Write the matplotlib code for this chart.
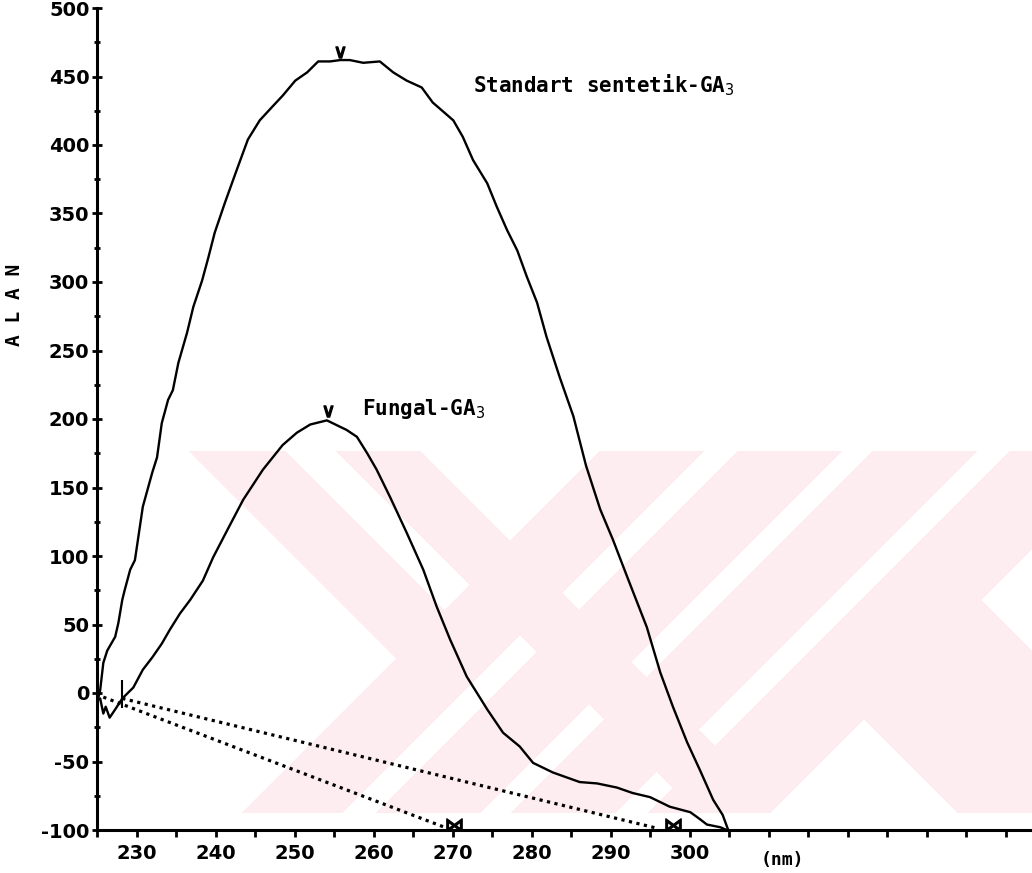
import numpy as np
import matplotlib.pyplot as plt
from matplotlib.ticker import MultipleLocator, FixedLocator

# absorbance scan, standard synthetic GA3 (nm, reading)
std_nm = [225.1, 225.4, 225.8, 226.3, 227.3, 227.7, 228.2, 228.5, 229.2, 229.8,
          230.8, 232.0, 232.6, 233.2, 234.0, 234.6, 235.3, 236.4, 237.2, 238.3,
          239.1, 239.9, 241.2, 242.7, 244.1, 245.6, 247.2, 248.5, 250.1, 251.6,
          253.0, 254.5, 255.8, 257.0, 258.7, 260.8, 262.5, 264.2, 266.1, 267.5,
          270.1, 271.3, 272.6, 274.4, 275.6, 276.9, 278.2, 279.4, 280.7, 281.9,
          283.6, 285.3, 286.9, 288.7, 290.3, 292.1, 294.6, 296.3, 297.9, 299.7,
          301.3, 303.0, 304.2, 304.9]
std_val = [-5, 2, 22, 31, 41, 51, 68, 75, 90, 97,
           136, 161, 172, 197, 214, 221, 241, 263, 282, 301,
           318, 336, 358, 382, 404, 418, 428, 436, 447, 453,
           461, 461, 462, 462, 460, 461, 453, 447, 442, 431,
           418, 406, 389, 372, 355, 338, 323, 304, 285, 260,
           230, 202, 166, 134, 112, 85, 48, 15, -10, -36,
           -56, -78, -89, -100]

# fungal GA3
fun_nm = [225.1, 225.4, 225.8, 226.1, 226.6, 227.3, 228.2, 229.6, 230.8, 232.0,
          233.2, 234.2, 235.5, 236.8, 238.4, 239.7, 241.5, 243.5, 246.0, 248.5,
          250.3, 252.0, 254.1, 256.6, 257.9, 259.2, 260.4, 262.1, 264.2, 266.3,
          268.0, 269.7, 271.8, 274.4, 276.4, 278.5, 280.2, 282.7, 286.1, 288.3,
          290.8, 292.8, 295.0, 297.5, 300.1, 301.3, 302.2, 303.9, 304.7]
fun_val = [-5, -4, -15, -10, -18, -12, -4, 4, 17, 26,
           36, 46, 58, 68, 82, 99, 119, 141, 163, 181,
           190, 196, 199, 192, 187, 175, 163, 143, 117, 90,
           63, 39, 12, -12, -29, -39, -51, -58, -65, -66,
           -69, -73, -76, -83, -87, -92, -96, -98, -100]

# dotted baselines
base1_nm = [225.8, 269.0]
base1_val = [-3, -98]
base2_nm = [228.2, 296.1]
base2_val = [-4, -99]
end_nm = [270.2, 297.9]
end_val = [-96, -96]

peak_nm = [255.8, 254.2]
peak_val = [468, 206]

xtick_vals = [230, 240, 250, 260, 270, 280, 290, 300]
ytick_vals = list(range(-100, 501, 50))

W, H = 1032, 873
fig = plt.figure(figsize=(W / 100, H / 100), dpi=100)

# faint pink watermark in the background
bg = fig.add_axes([0, 0, 1, 1], zorder=0)
px, py = np.meshgrid(np.arange(W) + 0.5, np.arange(H) + 0.5)
d = px - py
s = px + py
white = np.zeros_like(px, dtype=bool)
white |= (d < -262) & (s < 1055)
white |= (d > -166) & (d < -115) & (s < 1055)
white |= (d > -31) & (s < 1051)
for lo, hi in [(1155, 1189), (1293, 1324), (1428, 1461)]:
    white |= (s > lo) & (s < hi) & ~((d >= -115) & (d <= -31))
white |= (s >= 1584) & (d <= 144)
white |= ((s >= 1582) & (d >= 382)) & ~((s >= 1632) & (d >= 432))
inside = (py >= 451) & (py <= 813) & (px >= 185)
pink = inside & ~white
img = np.ones((H, W, 3))
img[pink] = np.array([253, 236, 240]) / 255.0
bg.imshow(img, extent=(0, W, H, 0), aspect="auto", interpolation="nearest")
bg.axis("off")

ax = fig.add_axes([97 / W, 43 / H, (W - 97) / W, 822 / H], zorder=1)
ax.set_facecolor("none")

ax.plot(std_nm, std_val, color="black", lw=1.7)
ax.plot(fun_nm, fun_val, color="black", lw=1.7)
ax.plot(base1_nm, base1_val, color="black", lw=2.3, linestyle=(0, (1, 1.4)))
ax.plot(base2_nm, base2_val, color="black", lw=2.3, linestyle=(0, (1, 1.4)))
ax.plot(end_nm, end_val, linestyle="none", marker=r"$\bowtie$", color="black",
        markersize=11)
ax.plot(peak_nm, peak_val, linestyle="none", marker=r"$\vee$", color="black",
        markersize=8)
ax.plot([228.2], [-1], linestyle="none", marker="|", color="black",
        markersize=20, markeredgewidth=1.5)

ax.set_xlim(225, 225 + (W - 97) / 7.9)
ax.set_ylim(-100, 500)

for side in ["top", "right"]:
    ax.spines[side].set_visible(False)
for side in ["left", "bottom"]:
    ax.spines[side].set_linewidth(2.2)

ax.xaxis.remove_overlapping_locs = False
ax.xaxis.set_major_locator(FixedLocator(xtick_vals))
ax.xaxis.set_minor_locator(MultipleLocator(5))
ax.set_xticklabels([str(v) for v in xtick_vals])
ax.tick_params(axis="x", which="major", length=0, pad=10)
ax.tick_params(axis="x", which="minor", direction="out", length=5, width=2)

ax.yaxis.set_major_locator(FixedLocator(ytick_vals))
ax.yaxis.set_minor_locator(MultipleLocator(25))
ax.set_yticklabels([str(v) for v in ytick_vals])
ax.tick_params(axis="y", which="major", direction="inout", length=7, width=2, pad=2)
ax.tick_params(axis="y", which="minor", direction="inout", length=5, width=2)

for lab in ax.get_xticklabels() + ax.get_yticklabels():
    lab.set_fontweight("bold")
    lab.set_fontsize(14)
    lab.set_family("DejaVu Sans")

ax.text(311.8, -0.025, "(nm)", transform=ax.get_xaxis_transform(),
        ha="center", va="top", fontsize=13, fontweight="bold",
        family="DejaVu Sans Mono")

ax.text(272.6, 444, "Standart sentetik-GA$_3$", ha="left", va="center",
        fontsize=15, fontweight="bold", family="DejaVu Sans Mono")
ax.text(258.5, 207, "Fungal-GA$_3$", ha="left", va="center",
        fontsize=15, fontweight="bold", family="DejaVu Sans Mono")

fig.text(15 / W, 1 - 305 / H, "A L A N", rotation=90, ha="center", va="center",
         fontsize=14, fontweight="bold", family="DejaVu Sans Mono")

fig.savefig("out.png", dpi=100)
